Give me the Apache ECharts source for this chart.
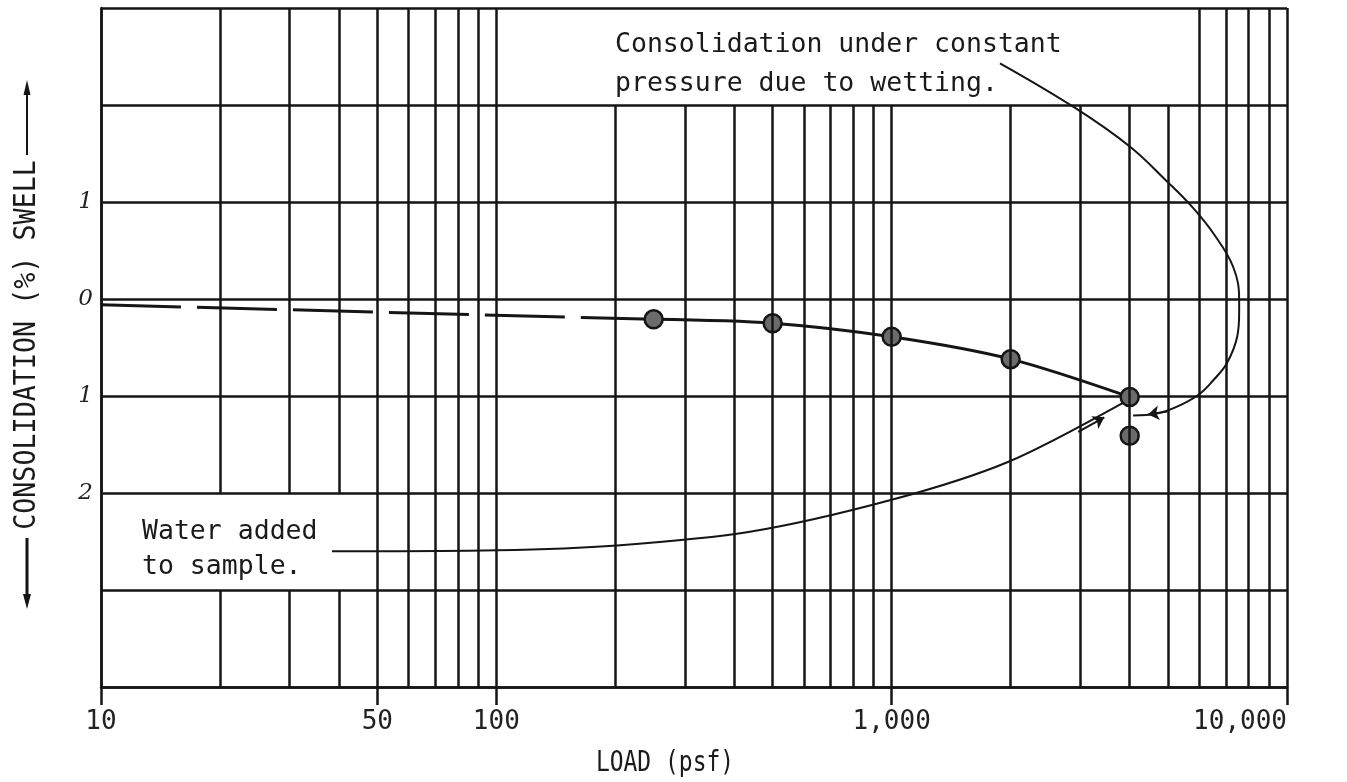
<!DOCTYPE html>
<html>
<head>
<meta charset="utf-8">
<title>Consolidation / swell vs load</title>
<script src="https://cdn.jsdelivr.net/npm/echarts@6/dist/echarts.min.js"></script>
<style>
  html, body { margin: 0; padding: 0; background: #fff; }
  #chart { width: 1347px; height: 782px; }
</style>
</head>
<body>
<div id="chart"></div>
<script>
// load (psf) vs swell (%); consolidation is plotted as negative swell
const loadValues = [250, 500, 1000, 2000, 4000];
const swellValues = [-0.21, -0.25, -0.39, -0.62, -1.01];
const wettedLoad = [4000];
const wettedSwell = [-1.41];

// extrapolated start of the curve (dashed)
const dashLoad = [10, 250];
const dashSwell = [-0.06, -0.21];

// leader for "Consolidation under constant pressure due to wetting."
const wetLeaderLoad = [1879, 2911, 4009, 4977, 5755, 6503, 7310, 7568, 7568, 7481, 7050, 6503, 5960, 5272, 4690, 4081];
const wetLeaderSwell = [2.43, 1.97, 1.57, 1.21, 0.95, 0.68, 0.33, -0.01, -0.14, -0.39, -0.66, -0.84, -0.99, -1.11, -1.18, -1.20];

// leader for "Water added to sample."
const waterLeaderLoad = [38.4, 100.5, 202, 438, 1000, 1968, 3846];
const waterLeaderSwell = [-2.60, -2.59, -2.54, -2.40, -2.07, -1.68, -1.07];

// axis ticks / labels
const xTickValues = [10, 50, 100, 1000, 10000];
const yLabelValues = [1, 0, -1, -2];

// vertical rulings of the log paper
const gridLoads = [10, 20, 30, 40, 50, 60, 70, 80, 90,
  100, 200, 300, 400, 500, 600, 700, 800, 900,
  1000, 2000, 3000, 4000, 5000, 6000, 7000, 8000, 9000, 10000];

const INK = '#151515';
const MONO = '"DejaVu Sans Mono", "Liberation Mono", monospace';

const zip = (xs, ys) => xs.map((x, i) => [x, ys[i]]);

// vertical lines, with the blank patches left for the notes
const verticalSegments = [];
gridLoads.forEach(v => {
  let spans = [[-4, 3]];
  if (v > 100 && v < 6000) spans = [[-4, 2]];
  if (v >= 20 && v <= 40) spans = [[-4, -3], [-2, 3]];
  spans.forEach(s => {
    verticalSegments.push([{ coord: [v, s[0]] }, { coord: [v, s[1]] }]);
  });
});

const chart = echarts.init(document.getElementById('chart'));

const dotStyle = { color: '#6b6b6b', borderColor: INK, borderWidth: 2.5, opacity: 1 };

const option = {
  backgroundColor: '#fff',
  animation: false,
  grid: { left: 101, right: 60, top: 8, bottom: 95, outerBoundsMode: 'none' },
  xAxis: {
    type: 'log',
    logBase: 10,
    min: 10,
    max: 10000,
    axisLine: { show: true, onZero: false, lineStyle: { color: INK, width: 2.5 } },
    axisTick: { show: true, customValues: xTickValues, length: 18, lineStyle: { color: INK, width: 2.5 } },
    axisLabel: {
      customValues: xTickValues,
      formatter: v => Number(v).toLocaleString('en-US'),
      fontFamily: MONO,
      fontSize: 26,
      color: '#222',
      margin: 22,
      alignMaxLabel: 'right'
    },
    splitLine: { show: false },
    minorTick: { show: false }
  },
  yAxis: {
    type: 'value',
    min: -4,
    max: 3,
    interval: 1,
    axisLine: { show: true, lineStyle: { color: INK, width: 2.5 } },
    axisTick: { show: false },
    axisLabel: {
      formatter: v => (yLabelValues.indexOf(v) >= 0 ? String(Math.abs(v)) : ''),
      fontFamily: '"DejaVu Serif", serif',
      fontStyle: 'italic',
      fontSize: 23,
      color: '#222',
      margin: 8,
      padding: [0, 0, 8, 0]
    },
    splitLine: { show: true, lineStyle: { color: INK, width: 2.5 } }
  },
  graphic: [
    {
      type: 'text', x: 615, y: 26,
      style: { text: 'Consolidation under constant\npressure due to wetting.', fontFamily: MONO, fontSize: 26.5, lineHeight: 39, fill: '#1a1a1a', align: 'left', verticalAlign: 'top' }
    },
    {
      type: 'text', x: 142, y: 515,
      style: { text: 'Water added\nto sample.', fontFamily: MONO, fontSize: 26.5, lineHeight: 35, fill: '#1a1a1a', align: 'left', verticalAlign: 'top' }
    },
    {
      type: 'text', x: 665, y: 764, scaleX: 0.82,
      style: { text: 'LOAD (psf)', fontFamily: MONO, fontSize: 28, fill: '#1a1a1a', align: 'center', verticalAlign: 'middle' }
    },
    {
      type: 'text', x: 27, y: 345, rotation: Math.PI / 2, scaleX: 0.89,
      style: { text: 'CONSOLIDATION (%) SWELL', fontFamily: MONO, fontSize: 30, fill: '#1a1a1a', align: 'center', verticalAlign: 'middle' }
    },
    { type: 'line', shape: { x1: 27, y1: 155, x2: 27, y2: 88 }, style: { stroke: INK, lineWidth: 2 } },
    { type: 'polygon', shape: { points: [[27, 80], [23.5, 95], [30.5, 95]] }, style: { fill: INK } },
    { type: 'line', shape: { x1: 27, y1: 538, x2: 27, y2: 600 }, style: { stroke: INK, lineWidth: 3 } },
    { type: 'polygon', shape: { points: [[27, 609], [23, 594], [31, 594]] }, style: { fill: INK } }
  ],
  series: [
    {
      name: 'rulings + extrapolation',
      type: 'line',
      z: 2,
      data: zip(dashLoad, dashSwell),
      symbol: 'none',
      lineStyle: { color: INK, width: 3, type: [80, 16] },
      markLine: {
        silent: true,
        symbol: 'none',
        label: { show: false },
        lineStyle: { color: INK, width: 2.5, type: 'solid' },
        emphasis: { disabled: true },
        data: verticalSegments
      }
    },
    {
      name: 'wetting leader',
      type: 'line',
      z: 3,
      data: zip(wetLeaderLoad, wetLeaderSwell),
      smooth: 0.4,
      symbol: 'none',
      lineStyle: { color: INK, width: 2 },
      markLine: {
        silent: true,
        symbol: ['none', 'arrow'],
        symbolSize: 11,
        label: { show: false },
        lineStyle: { color: INK, width: 2, type: 'solid' },
        data: [[{ coord: [4977, -1.16] }, { coord: [4450, -1.19] }]]
      }
    },
    {
      name: 'water leader',
      type: 'line',
      z: 3,
      data: zip(waterLeaderLoad, waterLeaderSwell),
      smooth: 0.3,
      symbol: 'none',
      lineStyle: { color: INK, width: 2 },
      markLine: {
        silent: true,
        symbol: ['none', 'arrow'],
        symbolSize: 11,
        label: { show: false },
        lineStyle: { color: INK, width: 2, type: 'solid' },
        data: [[{ coord: [2963, -1.37] }, { coord: [3450, -1.22] }]]
      }
    },
    {
      name: 'consolidation curve',
      type: 'line',
      z: 4,
      data: zip(loadValues, swellValues),
      smooth: 0.3,
      symbol: 'circle',
      symbolSize: 18,
      lineStyle: { color: INK, width: 3 },
      itemStyle: dotStyle
    },
    {
      name: 'after wetting',
      type: 'scatter',
      z: 4,
      data: zip(wettedLoad, wettedSwell),
      symbol: 'circle',
      symbolSize: 18,
      itemStyle: dotStyle
    }
  ]
};

chart.setOption(option);
</script>
</body>
</html>
